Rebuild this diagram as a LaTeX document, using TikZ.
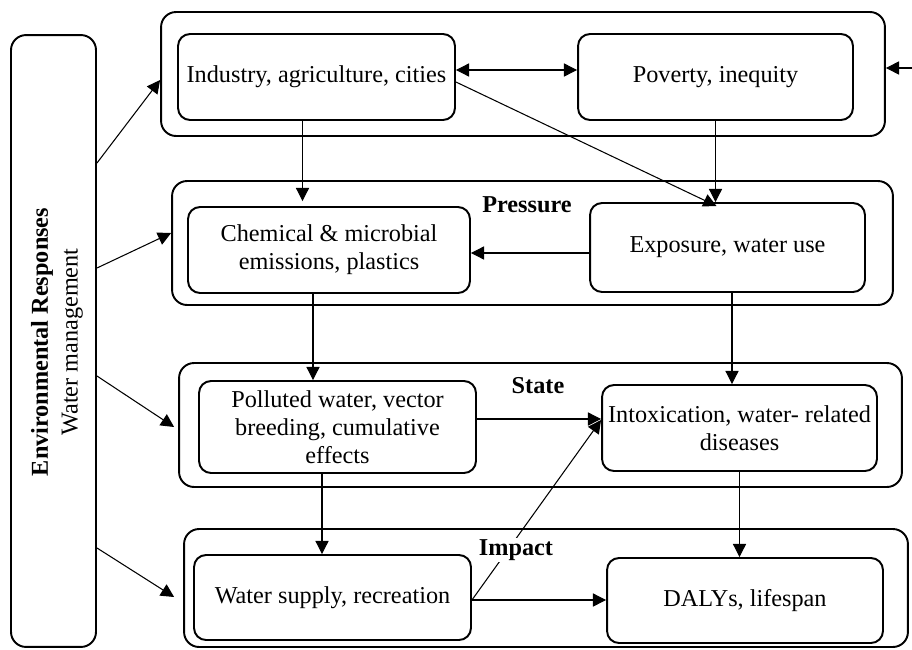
\documentclass[tikz,border=0pt]{standalone}
\usepackage{fontspec}
\setmainfont{Liberation Serif}
\usetikzlibrary{arrows.meta}

\tikzset{
  group/.style={draw, line width=1.1pt, rounded corners=0.3cm, minimum height=2.48cm},
  item/.style={draw, line width=1.1pt, rounded corners=0.24cm, align=center,
    minimum width=5.5cm, minimum height=1.72cm, font=\fontsize{13.8}{16}\selectfont},
  arr/.style={-{Triangle[length=7.5pt,width=7.5pt]}, line width=0.6pt},
  tag/.style={font=\bfseries\fontsize{13.8}{16}\selectfont, inner sep=1pt}
}

\begin{document}
\begin{tikzpicture}[x=0.02cm, y=-0.02cm]
\useasboundingbox (0,0) rectangle (912,649);
% outer groups
\node[group, minimum width=14.48cm] (drivers) at (523,74) {};
\node[group, minimum width=14.42cm] (pressure) at (532.5,243) {};
\node[group, minimum width=14.46cm] (state) at (540.5,425) {};
\node[group, minimum width=14.48cm, minimum height=2.36cm] (impact) at (546,588) {};
% responses
\node[draw, line width=1.1pt, rounded corners=0.3cm, minimum width=1.7cm, minimum height=12.24cm] (resp) at (53.5,341) {};
\node[rotate=90, align=center, font=\fontsize{13.8}{17}\selectfont] (resptext) at (57,342)
  {\textbf{Environmental Responses}\\Water management};
% boxes
\node[item, minimum width=5.54cm] (industry) at (316.5,77) {Industry, agriculture, cities};
\node[item] (poverty) at (715.5,77) {Poverty, inequity};
\node[item, minimum width=5.64cm] (chemical) at (329,250) {Chemical \& microbial\\emissions, plastics};
\node[item, minimum height=1.78cm] (exposure) at (727.5,247.5) {Exposure, water use};
\node[item, minimum width=5.54cm, minimum height=1.84cm] (polluted) at (337.5,427) {Polluted water, vector\\breeding, cumulative\\effects};
\node[item] (intox) at (739.5,428) {Intoxication, water- related\\diseases};
\node[item, minimum width=5.54cm, minimum height=1.7cm] (water) at (332.5,597.5) {Water supply, recreation};
\node[item, minimum width=5.52cm, minimum height=1.7cm] (dalys) at (745,600.5) {DALYs, lifespan};
% connectors
\coordinate (rin) at (912,68);
\draw[arr] (rin) -- (rin -| drivers.east);
\draw[{Triangle[length=7.5pt,width=7.5pt]}-{Triangle[length=7.5pt,width=7.5pt]}, line width=0.6pt]
  ([yshift=0.14cm]industry.east) -- ([yshift=0.14cm]industry.east -| poverty.west);
\draw[arr] ([xshift=-0.28cm]industry.south) -- ([xshift=-0.28cm,yshift=0.1cm]industry.south |- chemical.north);
\draw[arr] ([yshift=-0.1cm]industry.east) -- ([xshift=-0.22cm,yshift=-0.08cm]exposure.north);
\draw[arr] (poverty.south) -- (poverty.south |- exposure.north);
\draw[arr] ([yshift=-0.11cm]exposure.west) -- ([yshift=-0.11cm]exposure.west -| chemical.east);
\draw[arr] ([xshift=-0.32cm]chemical.south) -- ([xshift=-0.32cm]chemical.south |- polluted.north);
\draw[arr] ([xshift=0.09cm]exposure.south) -- ([xshift=0.09cm]exposure.south |- intox.north);
\draw[arr] ([yshift=0.16cm]polluted.east) -- ([yshift=0.16cm]polluted.east -| intox.west);
\draw[arr] ([xshift=-0.31cm]polluted.south) -- ([xshift=-0.31cm]polluted.south |- water.north);
\draw[arr] (intox.south) -- (intox.south |- dalys.north);
\draw[arr] ([yshift=-0.05cm]water.east) -- ([yshift=-0.05cm]water.east -| dalys.west);
\draw[arr] ([yshift=-0.05cm]water.east) -- ([yshift=0.16cm]intox.west);
% responses arrows
\draw[arr] ([yshift=3.56cm]resp.east) -- ([yshift=-0.12cm]drivers.west);
\draw[arr] ([yshift=1.46cm]resp.east) -- ([yshift=0.2cm]pressure.west);
\draw[arr] ([yshift=-0.7cm]resp.east) -- ([xshift=-0.08cm,yshift=-0.04cm]state.west);
\draw[arr] ([yshift=-4.14cm]resp.east) -- ([xshift=-0.18cm,yshift=-0.18cm]impact.west);
% labels
\node[tag] (ptag) at (527,205) {Pressure};
\node[tag] (stag) at (538,386) {State};
\node[tag, fill=white] (itag) at (516,550) {Impact};
\end{tikzpicture}
\end{document}
